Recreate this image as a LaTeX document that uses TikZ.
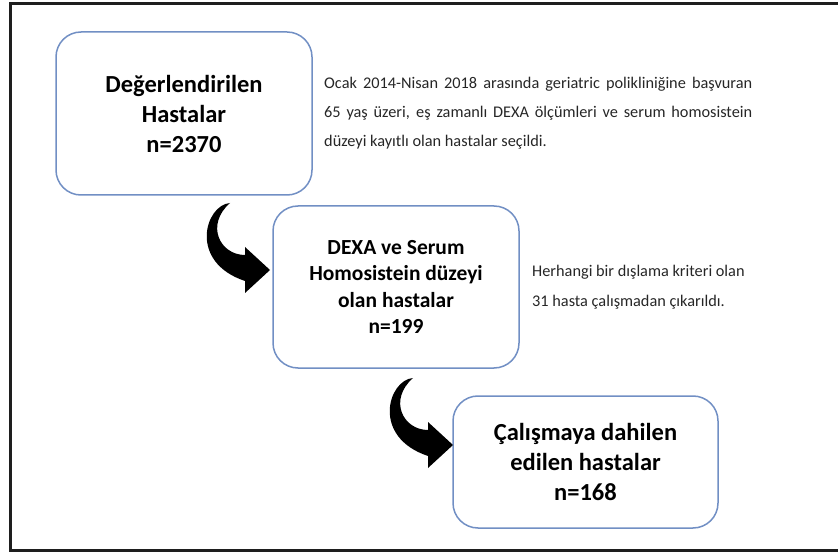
\documentclass[tikz,border=0pt]{standalone}
\usepackage{fontspec}
\setmainfont{Carlito}
\definecolor{boxblue}{RGB}{113,143,196}
\definecolor{frameblack}{RGB}{30,30,30}
\definecolor{txt}{RGB}{38,38,38}
\tikzset{
  flowbox/.style={draw=boxblue, line width=1.5pt, rounded corners=25pt, fill=white,
    align=center, font=\bfseries\fontsize{24.5}{30}\selectfont, text=black, inner sep=0pt},
  note/.style={anchor=west, inner sep=0pt, font=\fontsize{16.3}{20}\selectfont, text=txt},
  pics/bendarrow/.style={code={
    \fill[black] (-40,-67) .. controls (-65,-65) and (-82,-8) .. (-25,11)
      -- (-25,23) -- (0,0) -- (-25,-23) -- (-25,-15)
      .. controls (-50,-15) and (-65,-45) .. (-40,-67) -- cycle;
  }}
}
\begin{document}
\begin{tikzpicture}[x=1pt,y=-1pt]
\useasboundingbox (0,0) rectangle (838,553);
\begin{scope}
\clip (0,0) rectangle (838,553);
\draw[frameblack, line width=3pt] (10,4) rectangle (842,550);
\end{scope}

\node[flowbox, minimum width=256pt, minimum height=163pt] (b1) at (184,113.5)
  {Değerlendirilen\\Hastalar\\n=2370};
\node[flowbox, minimum width=246pt, minimum height=162pt,
  font=\bfseries\fontsize{21.5}{26.5}\selectfont] (b2) at (396,287)
  {DEXA ve Serum\\Homosistein düzeyi\\olan hastalar\\n=199};
\node[flowbox, minimum width=265pt, minimum height=132pt] (b3) at (585.5,462)
  {Çalışmaya dahilen\\edilen hastalar\\n=168};

\node[note] (p1a) at (324,84) {\makebox[428pt][s]{Ocak 2014-Nisan 2018 arasında geriatric polikliniğine başvuran}};
\node[note] (p1b) at (324,113) {\makebox[428pt][s]{65 yaş üzeri, eş zamanlı DEXA ölçümleri ve serum homosistein}};
\node[note] (p1c) at (324,142) {düzeyi kayıtlı olan hastalar seçildi.};

\node[note] (p2a) at (532,272) {Herhangi bir dışlama kriteri olan};
\node[note] (p2b) at (532,302) {31 hasta çalışmadan çıkarıldı.};

\pic at (270,270) {bendarrow};
\pic at (453,445) {bendarrow};
\end{tikzpicture}
\end{document}
